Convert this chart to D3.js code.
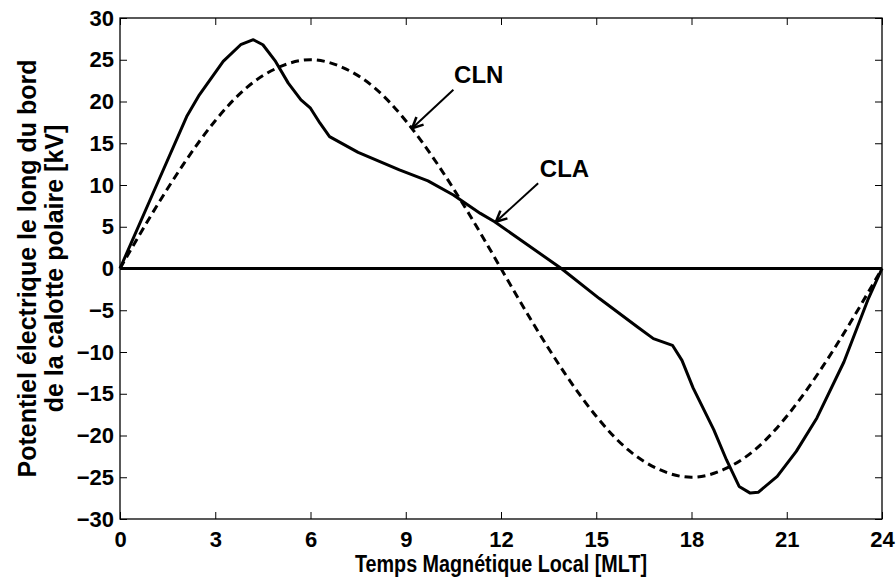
<!DOCTYPE html>
<html>
<head>
<meta charset="utf-8">
<script src="https://cdn.jsdelivr.net/npm/d3@7"></script>
<style>
  body { margin: 0; background: #fff; }
  text { font-family: "Liberation Sans", Arial, sans-serif; font-weight: bold; }
</style>
</head>
<body>
<div id="stage"></div>
<script>
// CLN (dashed), hourly values in kV
var cln_hours = [0,1,2,3,4,5,6,7,8,9,10,11,12,13,14,15,16,17,18,19,20,21,22,23,24];
var cln_values = [0,6.5,12.5,17.7,21.7,24.1,25,24.1,21.7,17.7,12.5,6.5,0,-6.5,-12.5,-17.7,-21.7,-24.1,-25,-24.1,-21.7,-17.7,-12.5,-6.5,0];

// CLA (solid)
var cla_hours = [0,1.05,2.1,2.5,3.25,3.8,4.2,4.5,4.9,5.3,5.7,6.0,6.3,6.6,7.5,8.8,9.7,10.5,11.35,11.8,13.9,15.1,16.3,16.8,17.4,17.7,18.05,18.7,19.1,19.5,19.85,20.1,20.7,21.3,21.95,22.8,23.55,24];
var cla_values = [0,9.1,18.2,20.8,24.8,26.8,27.4,26.8,24.8,22.2,20.2,19.2,17.4,15.8,13.9,11.8,10.5,8.8,6.6,5.6,0,-3.6,-7.0,-8.4,-9.2,-11.0,-14.3,-19.3,-22.9,-26.1,-26.9,-26.8,-24.9,-21.9,-17.9,-11.2,-3.8,0];

// zero reference line
var zero_hours = [0, 24];
var zero_values = [0, 0];

var x_ticks = [0,3,6,9,12,15,18,21,24];
var y_ticks = [-30,-25,-20,-15,-10,-5,0,5,10,15,20,25,30];

// annotations: label, text position, arrow start, arrow tip (data units)
var notes = [
  { label: "CLN", tx: 11.3, ty: 22.2, x0: 10.5, y0: 21.4, x1: 9.2, y1: 16.8 },
  { label: "CLA", tx: 14.0, ty: 11.0, x0: 13.17, y0: 10.2, x1: 11.84, y1: 5.6 }
];

var stage_width = 896;
var stage_height = 579;
var margin = { top: 18, right: 14, bottom: 60, left: 120 };
var chart_width = stage_width - margin.left - margin.right;
var chart_height = stage_height - margin.top - margin.bottom;

var svg = d3.select("#stage")
  .append("svg")
  .attr("width", stage_width)
  .attr("height", stage_height);

var g = svg.append("g")
  .attr("transform", "translate(" + margin.left + "," + margin.top + ")");

var x = d3.scaleLinear().domain([0, 24]).range([0, chart_width]);
var y = d3.scaleLinear().domain([-30, 30]).range([chart_height, 0]);

// axes with inward ticks
var xb = g.append("g")
  .attr("transform", "translate(0," + chart_height + ")")
  .call(d3.axisBottom(x).tickValues(x_ticks).tickSizeInner(-7).tickSizeOuter(0).tickPadding(9));
var xt = g.append("g")
  .call(d3.axisTop(x).tickValues(x_ticks).tickSizeInner(-7).tickSizeOuter(0).tickFormat(""));
var yl = g.append("g")
  .call(d3.axisLeft(y).tickValues(y_ticks).tickSizeInner(-7).tickSizeOuter(0).tickPadding(6));
var yr = g.append("g")
  .attr("transform", "translate(" + chart_width + ",0)")
  .call(d3.axisRight(y).tickValues(y_ticks).tickSizeInner(-7).tickSizeOuter(0).tickFormat(""));

[xb, xt, yl, yr].forEach(function(a) {
  a.select(".domain").remove();
  a.selectAll("line").attr("stroke", "#000").attr("stroke-width", 1);
  a.selectAll("text").attr("fill", "#000").style("font-size", "22px");
});
xb.selectAll("text").attr("dy", "0.85em");

g.append("rect")
  .attr("x", 0).attr("y", 0)
  .attr("width", chart_width).attr("height", chart_height)
  .attr("fill", "none").attr("stroke", "#000").attr("stroke-width", 1.3);

function pts(xs, ys) {
  return xs.map(function(d, i) { return [d, ys[i]]; });
}

var line = d3.line()
  .x(function(d) { return x(d[0]); })
  .y(function(d) { return y(d[1]); });

g.append("path")
  .datum(pts(zero_hours, zero_values))
  .attr("d", line)
  .attr("fill", "none").attr("stroke", "#000").attr("stroke-width", 3);

g.append("path")
  .datum(pts(cln_hours, cln_values))
  .attr("d", line.curve(d3.curveNatural))
  .attr("fill", "none").attr("stroke", "#000").attr("stroke-width", 3)
  .attr("stroke-dasharray", "8,5");

line.curve(d3.curveLinear);
g.append("path")
  .datum(pts(cla_hours, cla_values))
  .attr("d", line)
  .attr("fill", "none").attr("stroke", "#000").attr("stroke-width", 3)
  .attr("stroke-linejoin", "round");

// annotations
notes.forEach(function(n) {
  g.append("text")
    .attr("x", x(n.tx)).attr("y", y(n.ty))
    .attr("text-anchor", "middle")
    .style("font-size", "24px")
    .text(n.label);
  var px0 = x(n.x0), py0 = y(n.y0), px1 = x(n.x1), py1 = y(n.y1);
  g.append("line")
    .attr("x1", px0).attr("y1", py0).attr("x2", px1).attr("y2", py1)
    .attr("stroke", "#000").attr("stroke-width", 2);
  var ang = Math.atan2(py1 - py0, px1 - px0);
  var len = 12, spread = 0.45;
  [ang + Math.PI - spread, ang + Math.PI + spread].forEach(function(a) {
    g.append("line")
      .attr("x1", px1).attr("y1", py1)
      .attr("x2", px1 + len * Math.cos(a)).attr("y2", py1 + len * Math.sin(a))
      .attr("stroke", "#000").attr("stroke-width", 2.5);
  });
});

// axis labels
svg.append("text")
  .attr("x", margin.left + chart_width / 2)
  .attr("y", 572)
  .attr("text-anchor", "middle")
  .attr("textLength", 292)
  .attr("lengthAdjust", "spacingAndGlyphs")
  .style("font-size", "23px")
  .text("Temps Magnétique Local [MLT]");

var ylab = svg.append("text")
  .attr("transform", "translate(36," + (margin.top + chart_height / 2) + ") rotate(-90)")
  .attr("text-anchor", "middle")
  .style("font-size", "25px");
ylab.append("tspan").attr("x", 0).attr("y", 0).text("Potentiel électrique le long du bord");
ylab.append("tspan").attr("x", 0).attr("y", 27).text("de la calotte polaire [kV]");
</script>
</body>
</html>
